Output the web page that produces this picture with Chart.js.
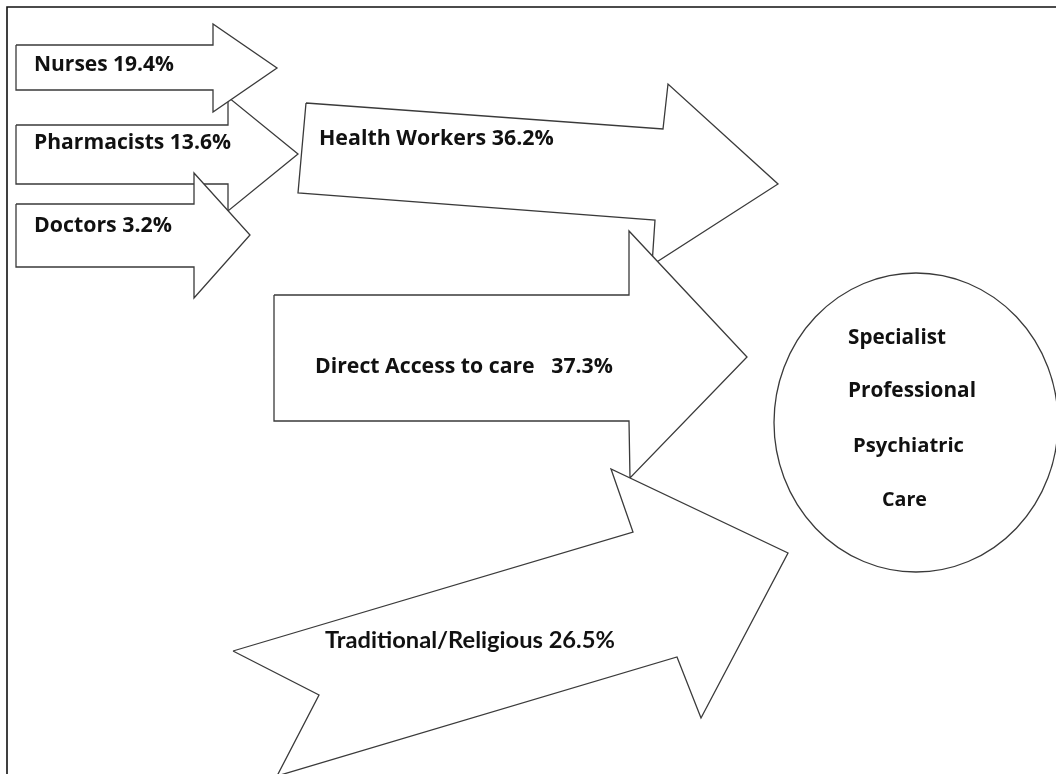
<!DOCTYPE html>
<html>
<head>
<meta charset="utf-8">
<script src="https://cdn.jsdelivr.net/npm/chart.js@4/dist/chart.umd.min.js"></script>
<style>
  html, body { margin: 0; padding: 0; background: #ffffff; }
  #wrap { width: 1056px; height: 774px; }
</style>
</head>
<body>
<div id="wrap"><canvas id="c" width="1056" height="774"></canvas></div>
<script>
// ---- data ----
const sources = ['Nurses', 'Pharmacists', 'Doctors', 'Health Workers', 'Direct Access to care', 'Traditional/Religious'];
const shares = [19.4, 13.6, 3.2, 36.2, 37.3, 26.5];
const destination = ['Specialist', 'Professional', 'Psychiatric', 'Care'];

// ---- arrow outlines in diagram units (x right, y down) ----
const nursesArrow = [[16,45],[213,45],[213,24],[277,68],[213,112],[213,90],[16,90]];
const pharmacistsArrow = [[16,125],[228,125],[228,97],[298,154],[228,211],[228,184],[16,184]];
const doctorsArrow = [[16,204],[194,204],[194,173],[250,235],[194,298],[194,267],[16,267]];
const healthWorkersArrow = [[306,103],[663,129],[668,84],[778,184],[652,265],[655,220],[298,193]];
const directAccessArrow = [[274,295],[629,295],[629,231],[747,357],[630,478],[629,421],[274,421]];
const traditionalArrow = [[233,651],[633,532],[611,469],[788,553],[701,718],[677,657],[277,776],[319,695]];
const frameLine = [[7,780],[7,7],[1060,7]];
const careNode = { cx: 916, cy: 422.5, rx: 142, ry: 149.5 };

// ---- layout of texts ----
const sourceLabelLayout = [
  { x: 34,  y: 65,  w: 140, family: 'Open Sans' },
  { x: 34,  y: 143, w: 197, family: 'Open Sans' },
  { x: 34,  y: 226, w: 138, family: 'Open Sans' },
  { x: 319, y: 139, w: 235, family: 'Open Sans' },
  { x: 315, y: 367, w: 298, family: 'Open Sans' },
  { x: 325, y: 640, w: 290, family: 'Lato' }
];
const destLabelLayout = [
  { x: 848, y: 338, w: 98 },
  { x: 848, y: 391, w: 128 },
  { x: 853, y: 446, w: 111 },
  { x: 882, y: 500, w: 45 }
];

function sourceText(i) {
  const sep = i === 4 ? '   ' : ' ';
  return sources[i] + sep + shares[i].toFixed(1) + '%';
}

const outlines = [pharmacistsArrow, nursesArrow, doctorsArrow, healthWorkersArrow, directAccessArrow, traditionalArrow];
const stroke = '#3a3a3a';

const datasets = outlines.map((poly, k) => ({
  label: 'arrow' + k,
  data: poly.concat([poly[0]]).map(p => ({ x: p[0], y: p[1] })),
  borderColor: stroke,
  borderWidth: 1.3,
  backgroundColor: '#ffffff',
  fill: 'shape',
  pointRadius: 0,
  tension: 0,
  order: outlines.length - k
}));
datasets.push({
  label: 'frame',
  data: frameLine.map(p => ({ x: p[0], y: p[1] })),
  borderColor: '#111111',
  borderWidth: 1.6,
  fill: false,
  pointRadius: 0,
  tension: 0,
  order: 50
});

function fitFont(ctx, text, family, targetW) {
  ctx.font = 'bold 20px "' + family + '"';
  const w = ctx.measureText(text).width;
  const size = 20 * targetW / w;
  return 'bold ' + size.toFixed(2) + 'px "' + family + '"';
}

const diagramPlugin = {
  id: 'diagram',
  afterDatasetsDraw(chart) {
    const ctx = chart.ctx;
    const xs = chart.scales.x, ys = chart.scales.y;
    // destination node
    const cx = xs.getPixelForValue(careNode.cx), cy = ys.getPixelForValue(careNode.cy);
    const rx = Math.abs(xs.getPixelForValue(careNode.cx + careNode.rx) - cx);
    const ry = Math.abs(ys.getPixelForValue(careNode.cy + careNode.ry) - cy);
    ctx.save();
    ctx.beginPath();
    ctx.ellipse(cx, cy, rx, ry, 0, 0, Math.PI * 2);
    ctx.fillStyle = '#ffffff';
    ctx.fill();
    ctx.lineWidth = 1.3;
    ctx.strokeStyle = stroke;
    ctx.stroke();
    // labels
    ctx.fillStyle = '#111111';
    ctx.textBaseline = 'middle';
    ctx.textAlign = 'left';
    sources.forEach((s, i) => {
      const L = sourceLabelLayout[i];
      const t = sourceText(i);
      ctx.font = fitFont(ctx, t, L.family, L.w);
      ctx.fillText(t, xs.getPixelForValue(L.x), ys.getPixelForValue(L.y));
    });
    destination.forEach((s, i) => {
      const L = destLabelLayout[i];
      ctx.font = fitFont(ctx, s, 'Open Sans', L.w);
      ctx.fillText(s, xs.getPixelForValue(L.x), ys.getPixelForValue(L.y));
    });
    ctx.restore();
  }
};

new Chart(document.getElementById('c'), {
  type: 'line',
  data: { datasets },
  options: {
    responsive: false,
    animation: false,
    events: [],
    layout: { padding: 0 },
    scales: {
      x: { type: 'linear', min: 0, max: 1056, display: false },
      y: { type: 'linear', min: 0, max: 774, reverse: true, display: false }
    },
    plugins: {
      legend: { display: false },
      tooltip: { enabled: false },
      filler: { propagate: false }
    }
  },
  plugins: [diagramPlugin]
});
</script>
</body>
</html>
